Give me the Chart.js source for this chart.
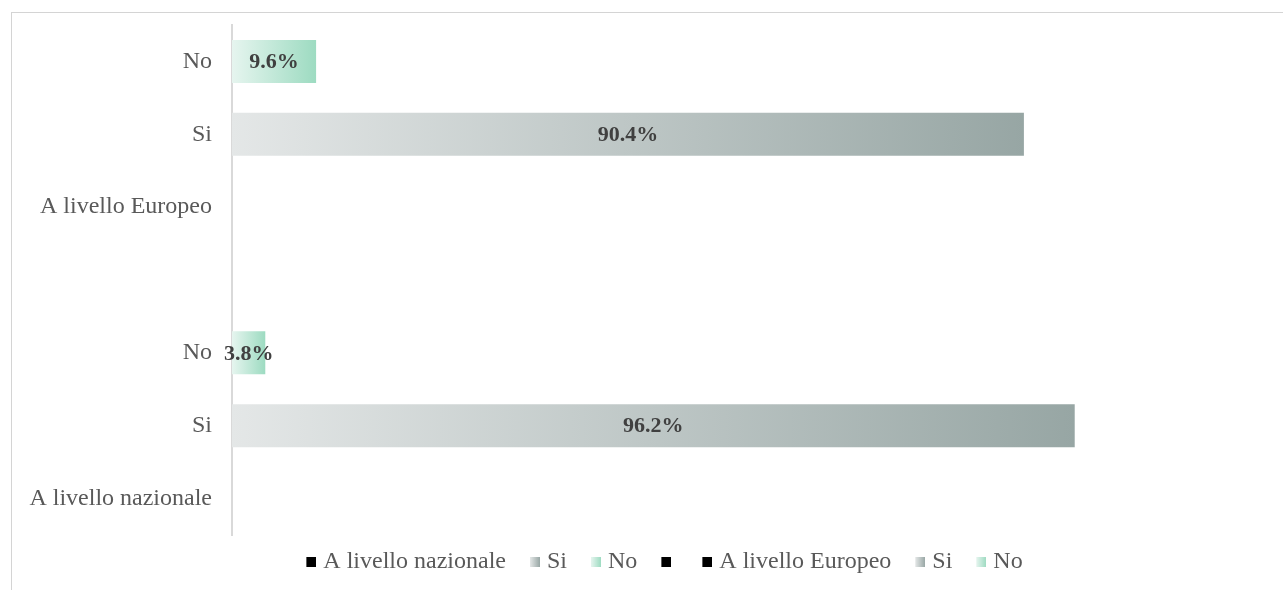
<!DOCTYPE html>
<html>
<head>
<meta charset="utf-8">
<script src="https://cdn.jsdelivr.net/npm/chart.js@4.4.1/dist/chart.umd.min.js"></script>
<style>
  body { margin: 0; background: #fff; overflow: hidden; }
  #frame { position: absolute; left: 11px; top: 12px; width: 1400px; height: 700px;
           border-left: 1px solid #d4d4d4; border-top: 1px solid #d4d4d4; }
  #chart { position: absolute; left: 0; top: 0; }
</style>
</head>
<body>
<div id="frame"></div>
<canvas id="chart" width="1320" height="590"></canvas>
<script>
// categories top to bottom, blank row separates the two groups
const categories = ['No', 'Si', 'A livello Europeo', '', 'No', 'Si', 'A livello nazionale'];
const percentages = [9.6, 90.4, null, null, 3.8, 96.2, null];
const barKind = ['no', 'si', null, null, 'no', 'si', null];

const legendTexts = ['A livello nazionale', 'Si', 'No', '', 'A livello Europeo', 'Si', 'No'];
const legendKind = ['black', 'si', 'no', 'black', 'black', 'si', 'no'];

const gradColors = {
  si: ['#e4e7e7', '#97a6a4'],
  no: ['#e6f5ef', '#9ddbc1'],
  black: ['#000000', '#000000']
};

function swatch(kind) {
  // wider transparent image, coloured square at the right edge
  const c = document.createElement('canvas');
  c.width = 24; c.height = 10;
  const g = c.getContext('2d');
  const gr = g.createLinearGradient(14, 0, 24, 0);
  gr.addColorStop(0, gradColors[kind][0]);
  gr.addColorStop(1, gradColors[kind][1]);
  g.fillStyle = gr;
  g.fillRect(14, 0, 10, 10);
  return c;
}

function barColor(ctx) {
  const kind = barKind[ctx.dataIndex];
  const chart = ctx.chart;
  const v = percentages[ctx.dataIndex];
  if (!kind || !chart.chartArea || v == null) return kind ? gradColors[kind][1] : 'transparent';
  const xs = chart.scales.x;
  const x0 = xs.getPixelForValue(0), x1 = xs.getPixelForValue(v);
  const gr = chart.ctx.createLinearGradient(x0, 0, x1, 0);
  gr.addColorStop(0, gradColors[kind][0]);
  gr.addColorStop(1, gradColors[kind][1]);
  return gr;
}

const valueLabels = {
  id: 'valueLabels',
  afterDatasetsDraw(chart) {
    const ctx = chart.ctx;
    const meta = chart.getDatasetMeta(0);
    ctx.save();
    ctx.font = 'bold 22px "Liberation Serif"';
    ctx.fillStyle = '#404040';
    ctx.textAlign = 'center';
    ctx.textBaseline = 'middle';
    meta.data.forEach((bar, i) => {
      if (percentages[i] == null) return;
      ctx.fillText(percentages[i].toFixed(1) + '%', (bar.x + bar.base) / 2, bar.y + 1);
    });
    ctx.restore();
  }
};

new Chart(document.getElementById('chart'), {
  type: 'bar',
  data: {
    labels: categories,
    datasets: [{
      data: percentages,
      backgroundColor: barColor,
      barPercentage: 0.59,
      categoryPercentage: 1
    }]
  },
  options: {
    indexAxis: 'y',
    responsive: false,
    animation: false,
    layout: { padding: { top: 25, left: 0, right: 0, bottom: 6 } },
    scales: {
      x: { min: 0, max: 124.2, display: false },
      y: {
        grid: { display: false, drawTicks: false },
        border: { display: true, color: '#d9d9d9', width: 2 },
        ticks: { padding: 20, color: '#595959', font: { family: 'Liberation Serif', size: 24 } },
        afterFit(scale) {
          scale.width = 232;
          scale.paddingTop = 0;
          scale.paddingBottom = 0;
        }
      }
    },
    plugins: {
      tooltip: { enabled: false },
      legend: {
        position: 'bottom',
        labels: {
          usePointStyle: true,
          pointStyleWidth: 14,
          boxHeight: 10,
          padding: 15,
          color: '#595959',
          font: { family: 'Liberation Serif', size: 24 },
          generateLabels() {
            return legendTexts.map((t, i) => ({
              text: t,
              pointStyle: swatch(legendKind[i]),
              fillStyle: 'transparent',
              strokeStyle: 'transparent',
              lineWidth: 0,
              fontColor: '#595959',
              index: i
            }));
          }
        }
      }
    }
  },
  plugins: [valueLabels]
});
</script>
</body>
</html>
